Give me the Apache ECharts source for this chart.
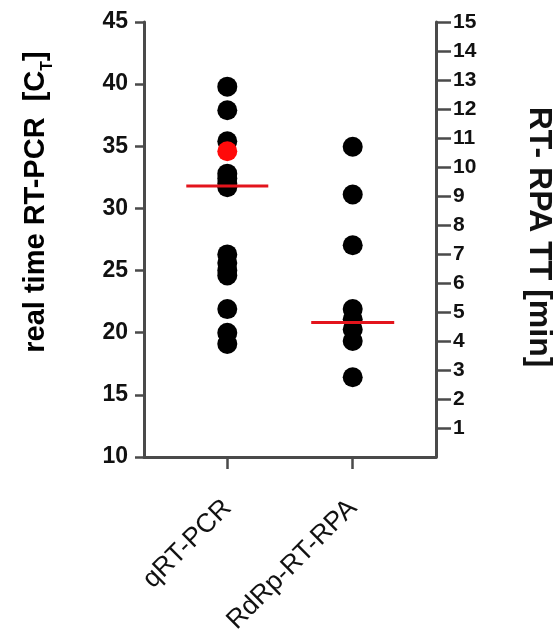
<!DOCTYPE html>
<html>
<head>
<meta charset="utf-8">
<script src="https://cdn.jsdelivr.net/npm/echarts@6/dist/echarts.min.js"></script>
<style>
html,body{margin:0;padding:0;background:#fff;}
#chart{width:553px;height:640px;}
</style>
</head>
<body>
<div id="chart"></div>
<script>
// ---- data ----
const categories = ['qRT-PCR', 'RdRp-RT-RPA'];
// qRT-PCR Ct values (left axis)
const qpcrCt = [39.8, 37.9, 35.4, 32.8, 32.4, 32.0, 31.7, 26.3, 25.6, 25.0, 24.6, 21.9, 20.0, 19.1];
// highlighted (red) qRT-PCR sample
const qpcrHighlight = [34.6];
// RdRp-RT-RPA threshold times in minutes (right axis)
const rpaTT = [10.7, 9.05, 7.3, 5.1, 4.75, 4.4, 4.0, 2.75];
// median bars: [qRT-PCR Ct, RPA TT]
const medians = [31.8, 4.64];
// axis tick values
const leftTicks = [10, 15, 20, 25, 30, 35, 40, 45];
const rightTicks = [1, 2, 3, 4, 5, 6, 7, 8, 9, 10, 11, 12, 13, 14, 15];

const chart = echarts.init(document.getElementById('chart'), null, {renderer: 'canvas'});
const axisColor = '#4a4a4a';
const FONT = '"Liberation Sans", Arial, sans-serif';
const xPad = 0.664;

const option = {
  animation: false,
  backgroundColor: '#ffffff',
  grid: {left: 144, right: 117, top: 22, bottom: 183, containLabel: false},
  xAxis: {
    type: 'value',
    min: 1 - xPad,
    max: categories.length + xPad,
    splitLine: {show: false},
    axisLine: {show: true, onZero: false, lineStyle: {color: axisColor, width: 3}},
    axisTick: {show: true, length: 12, lineStyle: {color: axisColor, width: 2.5},
               customValues: categories.map((c, i) => i + 1)},
    axisLabel: {
      customValues: categories.map((c, i) => i + 1),
      formatter: v => categories[Math.round(v) - 1] || '',
      rotate: 45, margin: 47, color: '#111', fontSize: 26.5, fontFamily: FONT
    }
  },
  yAxis: [
    {
      type: 'value', position: 'left',
      min: leftTicks[0], max: leftTicks[leftTicks.length - 1], interval: 5,
      splitLine: {show: false},
      axisLine: {show: true, onZero: false, lineStyle: {color: axisColor, width: 3}},
      axisTick: {show: true, length: 9, lineStyle: {color: axisColor, width: 2.5}},
      axisLabel: {color: '#111', fontSize: 23, fontWeight: 'bold', fontFamily: FONT, margin: 16}
    },
    {
      type: 'value', position: 'right',
      min: 0, max: rightTicks[rightTicks.length - 1], interval: 1,
      splitLine: {show: false},
      axisLine: {show: true, onZero: false, lineStyle: {color: axisColor, width: 3}},
      axisTick: {show: true, length: 15, lineStyle: {color: axisColor, width: 2.5},
                 customValues: rightTicks},
      axisLabel: {customValues: rightTicks, color: '#111', fontSize: 21, fontWeight: 'bold',
                  fontFamily: FONT, margin: 17}
    }
  ],
  graphic: [
    {
      type: 'text', x: 36, y: 202, rotation: Math.PI / 2, silent: true,
      style: {
        text: '{a|real time RT-PCR  [C}{s|T}{a|]}',
        align: 'center', verticalAlign: 'middle',
        rich: {
          a: {fontSize: 29, fontWeight: 'bold', fontFamily: FONT, color: '#111', lineHeight: 40},
          s: {fontSize: 16, fontWeight: 'bold', fontFamily: FONT, color: '#111', lineHeight: 16, verticalAlign: 'bottom'}
        }
      }
    },
    {
      type: 'text', x: 539, y: 237, rotation: -Math.PI / 2, silent: true,
      style: {
        text: 'RT- RPA TT [min]',
        align: 'center', verticalAlign: 'middle',
        fontSize: 32, fontWeight: 'bold', fontFamily: FONT, fill: '#111'
      }
    }
  ],
  series: [
    {
      name: categories[0], type: 'scatter', yAxisIndex: 0, silent: true,
      symbol: 'circle', symbolSize: 20, itemStyle: {color: '#000', opacity: 1},
      data: qpcrCt.map(v => [1, v]), z: 2
    },
    {
      name: categories[0] + ' highlighted', type: 'scatter', yAxisIndex: 0, silent: true,
      symbol: 'circle', symbolSize: 20, itemStyle: {color: '#ff0a0a', opacity: 1},
      data: qpcrHighlight.map(v => [1, v]), z: 3
    },
    {
      name: categories[1], type: 'scatter', yAxisIndex: 1, silent: true,
      symbol: 'circle', symbolSize: 20, itemStyle: {color: '#000', opacity: 1},
      data: rpaTT.map(v => [2, v]), z: 2
    },
    {
      name: 'median ' + categories[0], type: 'scatter', yAxisIndex: 0, silent: true,
      symbol: 'rect', symbolSize: [82, 3], itemStyle: {color: '#e3141c', opacity: 1},
      data: [[1, medians[0]]], z: 4
    },
    {
      name: 'median ' + categories[1], type: 'scatter', yAxisIndex: 1, silent: true,
      symbol: 'rect', symbolSize: [83, 3], itemStyle: {color: '#e3141c', opacity: 1},
      data: [[2, medians[1]]], z: 4
    }
  ]
};
chart.setOption(option);
</script>
</body>
</html>
